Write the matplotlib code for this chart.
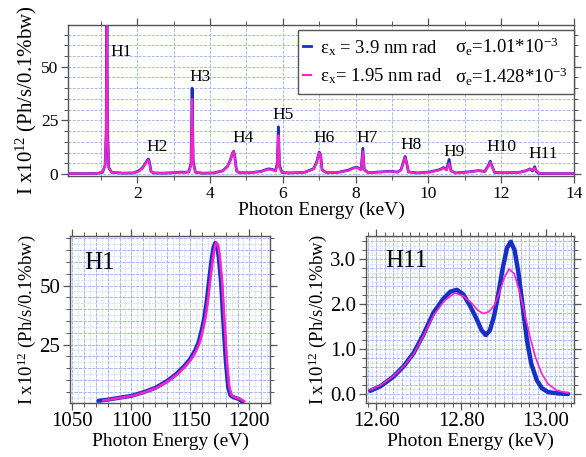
import numpy as np
import matplotlib
matplotlib.use("Agg")
import matplotlib.pyplot as plt
from matplotlib.ticker import MultipleLocator, FormatStrFormatter
from matplotlib.lines import Line2D

plt.rcParams['font.family'] = ['Liberation Serif', 'DejaVu Serif']
plt.rcParams['mathtext.fontset'] = 'custom'
plt.rcParams['mathtext.rm'] = 'Liberation Serif'
plt.rcParams['mathtext.it'] = 'Liberation Serif:italic'
plt.rcParams['mathtext.bf'] = 'Liberation Serif:bold'

BLUE = '#1630c4'
PINK = '#ff22cc'
GRID = '#a8b8ee'
SPINE = '#555555'

# ---- full spectrum (keV, 1e12 ph/s/0.1%bw) ----
top_energy = [0.1, 0.5, 0.9, 1.05, 1.12, 1.15, 1.17, 1.19, 1.22, 1.3,
              1.6, 1.9, 2.05, 2.15, 2.22, 2.28, 2.31, 2.34, 2.38, 2.45,
              2.7, 3.0, 3.2, 3.3, 3.42, 3.48, 3.51, 3.54, 3.6, 3.8,
              4.1, 4.35, 4.48, 4.56, 4.62, 4.65, 4.68, 4.73, 4.8, 5.1,
              5.4, 5.6, 5.7, 5.8, 5.85, 5.88, 5.91, 5.98, 6.2, 6.6,
              6.85, 6.93, 7.0, 7.04, 7.08, 7.2, 7.5, 7.8, 7.95, 8.05,
              8.15, 8.2, 8.24, 8.35, 8.7, 8.95, 9.15, 9.25, 9.32, 9.36,
              9.4, 9.45, 9.7, 10.05, 10.3, 10.42, 10.5, 10.57, 10.62, 10.75,
              11.1, 11.38, 11.55, 11.65, 11.7, 11.75, 11.82, 12.1, 12.5, 12.7,
              12.79, 12.86, 12.92, 12.97, 13.05, 13.4, 14.0]
top_blue = [0.2, 0.2, 0.3, 0.8, 4.0, 20.0, 69.0, 20.0, 3.0, 0.8,
            0.4, 0.5, 1.5, 3.0, 4.8, 6.5, 7.0, 5.5, 1.2, 0.5,
            0.4, 0.6, 0.9, 0.8, 1.0, 5.0, 40.0, 6.0, 0.8, 0.4,
            0.5, 1.5, 3.5, 6.5, 9.8, 10.6, 8.5, 1.5, 0.6, 0.6,
            1.2, 2.4, 2.2, 1.5, 5.0, 22.0, 4.0, 0.7, 0.5, 0.8,
            2.5, 5.5, 10.2, 9.0, 2.0, 0.6, 0.7, 1.8, 2.9, 3.1,
            2.0, 12.0, 2.0, 0.6, 1.0, 1.3, 0.9, 2.0, 6.0, 8.2,
            5.5, 1.0, 0.5, 1.0, 2.0, 3.0, 2.0, 6.8, 1.5, 0.5,
            1.0, 1.6, 1.2, 4.0, 6.0, 3.5, 0.7, 0.6, 0.8, 1.6,
            2.4, 1.4, 3.4, 1.0, 0.2, 0.2, 0.2]
top_pink = [0.2, 0.2, 0.3, 0.8, 4.0, 20.0, 69.0, 18.0, 3.0, 0.8,
            0.4, 0.5, 1.3, 2.8, 4.5, 6.2, 6.6, 5.2, 1.2, 0.5,
            0.4, 0.6, 0.8, 0.7, 1.0, 4.0, 35.0, 5.0, 0.8, 0.4,
            0.5, 1.4, 3.3, 6.3, 9.8, 10.4, 8.0, 1.5, 0.6, 0.6,
            1.1, 2.2, 2.0, 1.3, 4.0, 18.0, 3.0, 0.7, 0.5, 0.8,
            2.3, 5.2, 9.8, 8.6, 2.0, 0.6, 0.7, 1.6, 2.7, 2.9,
            1.8, 10.5, 1.8, 0.6, 0.9, 1.2, 0.9, 1.8, 5.6, 7.8,
            5.2, 1.0, 0.5, 0.9, 1.8, 2.7, 1.8, 5.0, 1.4, 0.5,
            0.9, 1.5, 1.1, 3.6, 5.5, 3.2, 0.7, 0.6, 0.8, 1.5,
            2.3, 1.8, 2.8, 1.5, 0.3, 0.2, 0.2]

harmonics = ['H1', 'H2', 'H3', 'H4', 'H5', 'H6', 'H7', 'H8', 'H9', 'H10', 'H11']
harm_label_x = [1.56, 2.54, 3.74, 4.92, 6.02, 7.13, 8.32, 9.52, 10.71, 12.0, 13.15]
harm_label_y = [57, 12.7, 45.3, 16.6, 27.5, 16.6, 16.6, 13.5, 10.4, 12.7, 9.3]

# ---- H1 zoom (eV) ----
h1_blue_e = [1072, 1080, 1090, 1100, 1110, 1120, 1130, 1138, 1145, 1150,
             1154, 1157, 1160, 1162, 1164, 1166, 1168, 1169.5, 1171, 1172.5,
             1174, 1176, 1178, 1180, 1182, 1184, 1187, 1191, 1194]
h1_blue_i = [1.2, 1.7, 2.5, 3.3, 4.8, 6.6, 9.5, 12.5, 16.0, 19.0,
             22.5, 26.0, 32.0, 37.0, 44.0, 53.0, 61.0, 66.0, 68.0, 67.0,
             62.0, 51.0, 34.0, 18.0, 7.0, 3.5, 2.6, 2.0, 0.9]
h1_pink_e = [1076, 1081, 1091, 1101, 1111, 1121, 1131, 1139, 1146, 1151,
             1155, 1158, 1161, 1163, 1165, 1167, 1169, 1170.5, 1172, 1173.5,
             1175, 1177, 1179, 1181, 1183, 1185, 1188, 1192, 1196]
h1_pink_i = [1.3, 1.7, 2.5, 3.3, 4.8, 6.6, 9.5, 12.5, 16.0, 19.0,
             22.5, 26.0, 32.0, 37.0, 44.0, 53.0, 61.0, 66.0, 68.3, 67.2,
             62.0, 51.0, 34.0, 18.0, 7.0, 3.5, 2.6, 2.0, 0.9]

# ---- H11 zoom (keV) ----
h11_blue_e = [12.586, 12.61, 12.641, 12.665, 12.688, 12.71, 12.735, 12.758,
              12.775, 12.79, 12.805, 12.82, 12.837, 12.848, 12.858, 12.868,
              12.878, 12.888, 12.898, 12.908, 12.917, 12.926, 12.935, 12.945,
              12.955, 12.965, 12.978, 12.99, 13.005, 13.03, 13.052]
h11_blue_i = [0.07, 0.17, 0.39, 0.62, 0.91, 1.30, 1.81, 2.12,
              2.28, 2.32, 2.22, 1.98, 1.66, 1.42, 1.31, 1.42,
              1.75, 2.25, 2.80, 3.25, 3.39, 3.20, 2.70, 1.95,
              1.20, 0.68, 0.31, 0.13, 0.04, 0.01, 0.0]
h11_pink_e = [12.586, 12.61, 12.641, 12.665, 12.688, 12.71, 12.735, 12.76,
              12.785, 12.805, 12.825, 12.84, 12.852, 12.865, 12.878, 12.89,
              12.902, 12.913, 12.925, 12.937, 12.95, 12.962, 12.975, 12.99,
              13.005, 13.025, 13.052]
h11_pink_i = [0.09, 0.19, 0.40, 0.62, 0.89, 1.27, 1.75, 2.07,
              2.25, 2.18, 2.02, 1.86, 1.79, 1.83, 1.97, 2.25,
              2.60, 2.78, 2.68, 2.30, 1.78, 1.28, 0.82, 0.45,
              0.22, 0.08, 0.02]

ylab = r'I x10$^{12}$ (Ph/s/0.1%bw)'


def style_axes(ax, xmaj, xmin, ymaj, ymin, fs):
    ax.xaxis.set_major_locator(MultipleLocator(xmaj))
    ax.xaxis.set_minor_locator(MultipleLocator(xmin))
    ax.yaxis.set_major_locator(MultipleLocator(ymaj))
    ax.yaxis.set_minor_locator(MultipleLocator(ymin))
    ax.tick_params(which='both', direction='out', top=True, right=True,
                   color=SPINE, labelsize=fs, pad=2)
    ax.tick_params(which='major', length=5, width=0.9)
    ax.tick_params(which='minor', length=3, width=0.7)
    for s in ax.spines.values():
        s.set_color(SPINE)
        s.set_linewidth(1.0)
    ax.set_axisbelow(True)
    ax.grid(which='both', color=GRID, linestyle=(0, (3, 1.5)), linewidth=0.7)


def fine_grid(ax, xstep, ystep):
    x0, x1 = ax.get_xlim()
    y0, y1 = ax.get_ylim()
    for x in np.arange(np.ceil(x0 / xstep) * xstep, x1, xstep):
        ax.axvline(x, color=GRID, linestyle=(0, (1, 1.5)), linewidth=0.5, zorder=0)
    for y in np.arange(np.ceil(y0 / ystep) * ystep, y1, ystep):
        ax.axhline(y, color=GRID, linestyle=(0, (1, 1.5)), linewidth=0.5, zorder=0)


fig = plt.figure(figsize=(5.86, 4.57), dpi=100)

# ---- top panel ----
ax = fig.add_axes([0.116, 0.615, 0.8635, 0.3304])
ax.plot(top_energy, top_blue, color=BLUE, lw=2.0, zorder=3)
ax.plot(top_energy, top_pink, color=PINK, lw=1.6, zorder=4)
ax.set_xlim(0.1, 14)
ax.set_ylim(-0.9, 69.5)
style_axes(ax, 2, 1, 25, 5, 12.5)
for name, hx, hy in zip(harmonics, harm_label_x, harm_label_y):
    ax.text(hx, hy, name, fontsize=12.5, ha='center', va='center', zorder=5)
ax.set_xlabel('Photon Energy (keV)', fontsize=14, labelpad=0)
ax.set_ylabel(ylab, fontsize=15, labelpad=1)

handles = [Line2D([], [], color=BLUE, lw=2),
           Line2D([], [], color=PINK, lw=1.5),
           Line2D([], [], alpha=0),
           Line2D([], [], alpha=0)]
labels = ['ε$_{\\rm x}$ = 3.9 nm rad', 'ε$_{\\rm x}$= 1.95 nm rad',
          'σ$_{\\rm e}$=1.01*10$^{-3}$', 'σ$_{\\rm e}$=1.428*10$^{-3}$']
leg = ax.legend(handles, labels, ncol=2, loc='upper right',
                bbox_to_anchor=(1.0, 0.967), borderaxespad=0, fontsize=13.5,
                handlelength=0.4, handletextpad=0.5, columnspacing=-0.2,
                labelspacing=0.45, borderpad=0.3, fancybox=False,
                framealpha=1, edgecolor=SPINE)
leg.get_frame().set_linewidth(1.0)
leg.set_zorder(6)

# ---- H1 zoom ----
ax1 = fig.add_axes([0.1195, 0.1188, 0.3413, 0.3650])
ax1.plot(h1_blue_e, h1_blue_i, color=BLUE, lw=3.0, zorder=3, solid_capstyle='round')
ax1.plot(h1_pink_e, h1_pink_i, color=PINK, lw=1.8, zorder=4, solid_capstyle='round')
ax1.set_xlim(1048, 1217.5)
ax1.set_ylim(0.4, 71)
style_axes(ax1, 50, 10, 25, 5, 15)
fine_grid(ax1, 5, 2.5)
ax1.text(0.15, 0.84, 'H1', transform=ax1.transAxes, fontsize=18,
         ha='center', va='center')
ax1.set_xlabel('Photon Energy (eV)', fontsize=14, labelpad=1)
ax1.set_ylabel(ylab, fontsize=13.5, labelpad=1)

# ---- H11 zoom ----
ax2 = fig.add_axes([0.6246, 0.1188, 0.3550, 0.3650])
ax2.plot(h11_blue_e, h11_blue_i, color=BLUE, lw=3.2, zorder=3,
         solid_capstyle='round', solid_joinstyle='round')
ax2.plot(h11_pink_e, h11_pink_i, color=PINK, lw=1.2, zorder=4,
         solid_joinstyle='round')
ax2.set_xlim(12.576, 13.066)
ax2.set_ylim(-0.195, 3.52)
style_axes(ax2, 0.2, 0.02, 1.0, 0.2, 15)
fine_grid(ax2, 0.01, 0.1)
ax2.xaxis.set_major_formatter(FormatStrFormatter('%.2f'))
ax2.yaxis.set_major_formatter(FormatStrFormatter('%.1f'))
ax2.text(0.196, 0.85, 'H11', transform=ax2.transAxes, fontsize=18,
         ha='center', va='center')
ax2.set_xlabel('Photon Energy (keV)', fontsize=14, labelpad=1)
ax2.set_ylabel(ylab, fontsize=13.5, labelpad=1)

fig.savefig('out.png', dpi=100)
